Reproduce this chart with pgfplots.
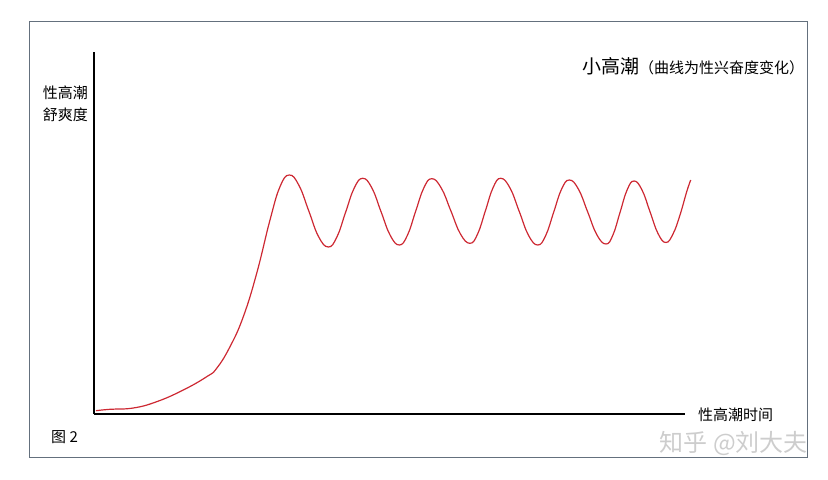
\documentclass[border=0pt]{standalone}
\usepackage{pgfplots}
\pgfplotsset{compat=1.18}
\usepackage{fontspec}
\setmainfont{Noto Sans CJK SC}
\definecolor{curvered}{RGB}{205,40,50}
\definecolor{framegray}{RGB}{100,112,125}
\definecolor{marktext}{RGB}{205,205,205}
\newcommand{\px}[1]{\fontsize{#1bp}{#1bp}\selectfont}

\begin{document}
\begin{tikzpicture}
\begin{axis}[
    scale only axis,
    width=591bp, height=362bp,
    xmin=94, xmax=685, ymin=0, ymax=362,
    axis x line=bottom, axis y line=left,
    axis line style={-, line width=1.1bp},
    xtick=\empty, ytick=\empty,
    clip=false,
]
\addplot[curvered, line width=1.2bp, smooth, tension=0.75, no markers] coordinates {
    (96,3.3) (110,4.7) (133.3,6) (156.7,12.3) (183.3,24) (206.7,37.3)
    (216.7,45.7) (230,67.3) (243.3,97.3) (256.7,140.7) (270,194)
    (280,227.3) (289.3,239)
    (299,228.5) (308.8,203) (318.5,177.5) (328.3,167)
    (336.9,177) (345.5,201.4) (354.1,225.7) (362.7,235.7)
    (371.9,226) (381,202.4) (390.2,178.7) (399.3,169)
    (407.4,178.7) (415.5,202.2) (423.6,225.6) (431.7,235.3)
    (441.3,225.9) (450.9,203) (460.4,180.1) (470,170.7)
    (477.7,180.2) (485.4,203.2) (493,226.2) (500.7,235.7)
    (510,226) (519.3,202.4) (528.5,178.7) (537.8,169)
    (545.7,178.5) (553.6,201.5) (561.4,224.5) (569.3,234)
    (578.5,224.7) (587.7,202) (596.8,179.3) (606,170)
    (613,179.2) (620,201.5) (627,223.8) (634,233)
    (642,224) (650,202.3) (658,180.5) (666,171.5)
    (673.3,180.7) (680,199) (686.7,222.3) (690.7,234)
};

% frame and page size
\path (axis cs:0,-66) rectangle (axis cs:828,414);
\draw[framegray, line width=1bp] (axis cs:29.5,-43) rectangle (axis cs:807.5,392);

\node[font=\px{15}] at (axis cs:65.5,321) {性高潮};
\node[font=\px{15}] at (axis cs:65.5,299) {舒爽度};
\node[anchor=west, inner sep=0pt] at (axis cs:582,348)
    {{\px{19}小高潮}{\px{15}（曲线为性兴奋度变化）}};
\node[anchor=west, inner sep=0pt, font=\px{15}] at (axis cs:698,-1) {性高潮时间};
\node[anchor=west, inner sep=0pt, font=\px{15}] at (axis cs:51,-23) {图 2};
\node[anchor=east, inner sep=0pt, font=\px{24}, text=marktext] at (axis cs:808,-29) {知乎 @刘大夫};
\end{axis}
\end{tikzpicture}
\end{document}
